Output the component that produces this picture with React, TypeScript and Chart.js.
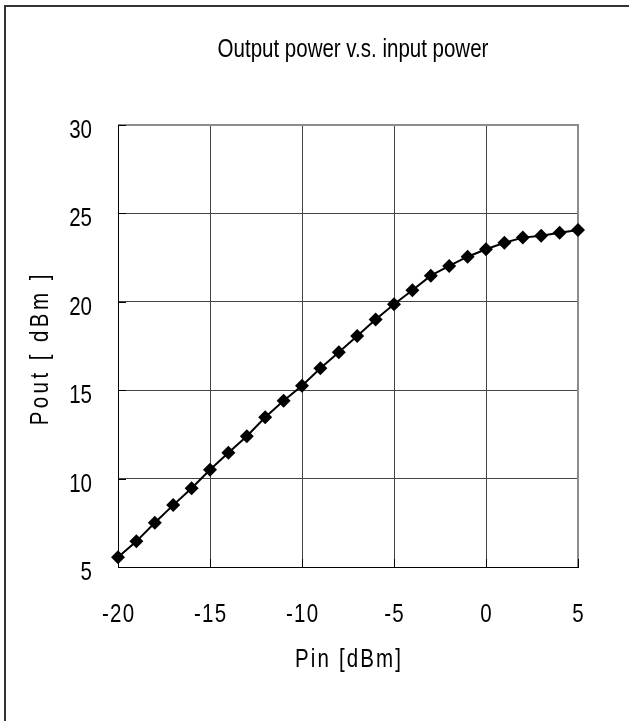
import React, { useEffect, useRef } from "react";
import { Chart, registerables } from "chart.js";

Chart.register(...registerables);

const chartTitle = "Output power v.s. input power";
const xAxisTitle = "Pin [dBm]";
const yAxisTitle = "Pout [ dBm ]";
const pinValues = [-20, -19, -18, -17, -16, -15, -14, -13, -12, -11, -10, -9, -8, -7, -6, -5, -4, -3, -2, -1, 0, 1, 2, 3, 4, 5];
const poutValues = [5.55, 6.45, 7.5, 8.5, 9.45, 10.5, 11.46, 12.4, 13.47, 14.4, 15.25, 16.24, 17.14, 18.07, 19.0, 19.86, 20.65, 21.48, 22.03, 22.55, 22.97, 23.34, 23.63, 23.74, 23.91, 24.06];
const xTickMin = -20;
const xTickMax = 5;
const yTickMin = 5;
const yTickMax = 30;
const tickStep = 5;

const FONT = "'Liberation Sans', Arial, sans-serif";
const FONT_SIZE = 25;
const CONDENSE = 0.82;

const W = 629;
const H = 721;

function drawText(
  ctx: CanvasRenderingContext2D,
  text: string,
  x: number,
  y: number,
  align: CanvasTextAlign,
  spacing: number,
  rotate = 0
) {
  ctx.save();
  ctx.translate(x, y);
  if (rotate) ctx.rotate(rotate);
  ctx.scale(CONDENSE, 1);
  ctx.font = `${FONT_SIZE}px ${FONT}`;
  (ctx as any).letterSpacing = `${spacing}px`;
  ctx.textAlign = align;
  ctx.textBaseline = "alphabetic";
  ctx.fillStyle = "#000000";
  let dx = 0;
  if (spacing && align === "center") dx = spacing / 2;
  if (spacing && align === "right") dx = spacing;
  ctx.fillText(text, dx, 0);
  ctx.restore();
}

const decorPlugin = {
  id: "decor",
  beforeDraw(chart: any) {
    const ctx = chart.ctx;
    ctx.save();
    ctx.fillStyle = "#ffffff";
    ctx.fillRect(0, 0, W, H);
    ctx.fillStyle = "#333333";
    ctx.fillRect(4, 5, 2, H);
    ctx.fillRect(4, 5, W, 2);
    ctx.restore();
  },
  beforeDatasetsDraw(chart: any) {
    const ctx = chart.ctx;
    const a = chart.chartArea;
    const xs = chart.scales.x;
    const ys = chart.scales.y;
    ctx.save();
    ctx.strokeStyle = "#8c8c8c";
    ctx.lineWidth = 2;
    ctx.beginPath();
    ctx.moveTo(a.left, a.top);
    ctx.lineTo(a.right, a.top);
    ctx.lineTo(a.right, a.bottom);
    ctx.stroke();
    ctx.strokeStyle = "#000000";
    ctx.lineWidth = 1;
    ctx.beginPath();
    ys.ticks.forEach((t: any) => {
      const y = Math.round(ys.getPixelForValue(t.value)) + 0.5;
      ctx.moveTo(a.left, y);
      ctx.lineTo(a.left + 8, y);
    });
    xs.ticks.forEach((t: any) => {
      const x = Math.round(xs.getPixelForValue(t.value)) + 0.5;
      ctx.moveTo(x, a.bottom);
      ctx.lineTo(x, a.bottom - 8);
    });
    ctx.stroke();
    ctx.restore();
  },
  afterDraw(chart: any) {
    const ctx = chart.ctx;
    const a = chart.chartArea;
    const xs = chart.scales.x;
    const ys = chart.scales.y;
    // tick labels from the library's scales
    ys.ticks.forEach((t: any) => {
      const y = ys.getPixelForValue(t.value);
      drawText(ctx, String(t.label), 92, y + 13, "right", 0);
    });
    xs.ticks.forEach((t: any) => {
      const x = xs.getPixelForValue(t.value);
      drawText(ctx, String(t.label), x, 622, "center", 1.5);
    });
    drawText(ctx, chartTitle, 353, 57, "center", 0);
    drawText(ctx, xAxisTitle, (a.left + a.right) / 2, 667, "center", 2.6);
    drawText(ctx, yAxisTitle, 48, 350, "center", 4.2, -Math.PI / 2);
  },
};

export default function App() {
  const canvasRef = useRef<HTMLCanvasElement | null>(null);

  useEffect(() => {
    if (!canvasRef.current) return;
    const data = pinValues.map((x, i) => ({ x, y: poutValues[i] }));
    const chart = new Chart(canvasRef.current, {
      type: "line",
      data: {
        datasets: [
          {
            data,
            borderColor: "#000000",
            backgroundColor: "#000000",
            borderWidth: 2,
            pointStyle: "rectRot",
            pointRadius: 7,
            pointBorderWidth: 0,
            pointBackgroundColor: "#000000",
            tension: 0,
            clip: false,
          } as any,
        ],
      },
      plugins: [decorPlugin],
      options: {
        animation: false,
        responsive: false,
        devicePixelRatio: 1,
        layout: { padding: { left: 0, top: 125, right: 51, bottom: 0 } },
        plugins: {
          legend: { display: false },
          title: { display: false },
          tooltip: { enabled: false },
        },
        scales: {
          x: {
            type: "linear",
            min: xTickMin,
            max: xTickMax,
            afterFit: (s: any) => {
              s.height = H - 567;
            },
            ticks: {
              stepSize: tickStep,
              display: false,
              font: { family: FONT, size: FONT_SIZE },
            },
            grid: { color: "#444444", lineWidth: 1, drawTicks: false },
            border: { color: "#000000", width: 1 },
          },
          y: {
            type: "linear",
            min: yTickMin,
            max: yTickMax,
            afterFit: (s: any) => {
              s.width = 118;
            },
            ticks: {
              stepSize: tickStep,
              display: false,
              font: { family: FONT, size: FONT_SIZE },
            },
            grid: { color: "#444444", lineWidth: 1, drawTicks: false },
            border: { color: "#000000", width: 1 },
          },
        },
      },
    });
    return () => chart.destroy();
  }, []);

  return (
    <div style={{ position: "absolute", left: 0, top: 0, width: W, height: H, overflow: "hidden", background: "#fff" }}>
      <canvas ref={canvasRef} width={W} height={H} style={{ width: W, height: H, display: "block" }} />
    </div>
  );
}
